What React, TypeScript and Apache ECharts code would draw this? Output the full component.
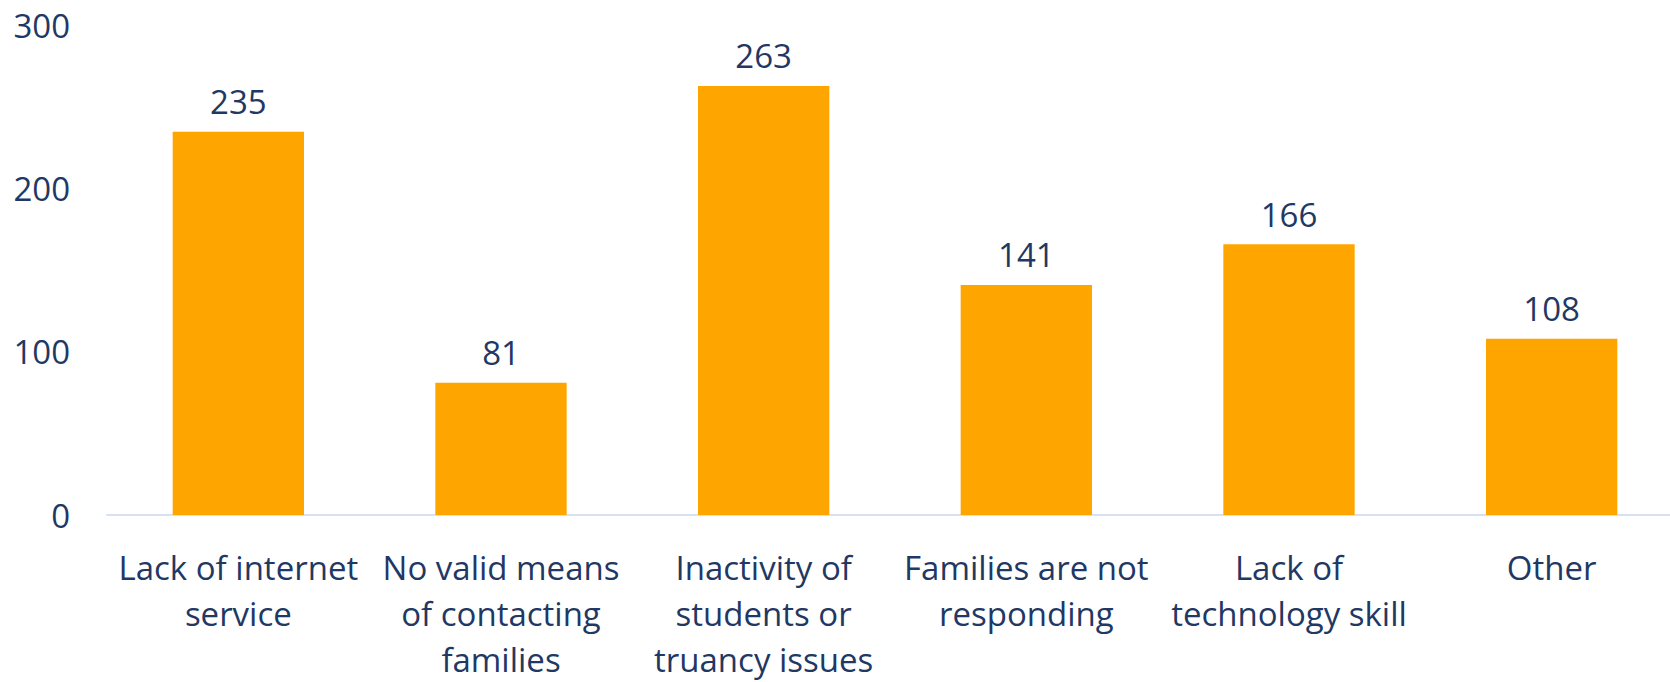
import React, { useEffect, useRef } from "react";
import * as echarts from "echarts";

const categories = [
  "Lack of internet service",
  "No valid means of contacting families",
  "Inactivity of students or truancy issues",
  "Families are not responding",
  "Lack of technology skill",
  "Other",
];
const categoryLines: string[][] = [
  ["Lack of internet", "service"],
  ["No valid means", "of contacting", "families"],
  ["Inactivity of", "students or", "truancy issues"],
  ["Families are not", "responding"],
  ["Lack of", "technology skill"],
  ["Other"],
];
const values = [235, 81, 263, 141, 166, 108];
const yTicks = [0, 100, 200, 300];

const FONT = '"Open Sans", "Noto Sans", sans-serif';
const TEXT = "#1F3864";

export default function App() {
  const ref = useRef<HTMLDivElement>(null);
  useEffect(() => {
    if (!ref.current) return;
    const chart = echarts.init(ref.current, null, { renderer: "svg" });
    chart.setOption({
      animation: false,
      backgroundColor: "#ffffff",
      grid: { left: 107, top: 25.6, right: 0, height: 490.1, containLabel: false },
      xAxis: {
        type: "category",
        data: categories,
        axisLine: { show: true, lineStyle: { color: "#D6E2F4", width: 2 } },
        axisTick: { show: false },
        axisLabel: {
          interval: 0,
          margin: 29,
          color: TEXT,
          fontFamily: FONT,
          fontSize: 33,
          lineHeight: 46,
          formatter: (v: string) => {
            const i = categories.indexOf(v);
            return i >= 0 ? categoryLines[i].join("\n") : v;
          },
        },
      },
      yAxis: {
        type: "value",
        min: yTicks[0],
        max: yTicks[yTicks.length - 1],
        interval: 100,
        splitLine: { show: false },
        axisLine: { show: false },
        axisTick: { show: false },
        axisLabel: {
          margin: 37,
          color: TEXT,
          fontFamily: FONT,
          fontSize: 33,
        },
      },
      series: [
        {
          type: "bar",
          data: values,
          barWidth: "50%",
          itemStyle: { color: "#FFA500" },
          label: {
            show: true,
            position: "top",
            distance: 7,
            color: TEXT,
            fontFamily: FONT,
            fontSize: 33,
            lineHeight: 46,
          },
        },
      ],
    });
    return () => chart.dispose();
  }, []);
  return (
    <div
      ref={ref}
      style={{ position: "fixed", left: 0, top: 0, width: 1683, height: 682, background: "#fff" }}
    />
  );
}
